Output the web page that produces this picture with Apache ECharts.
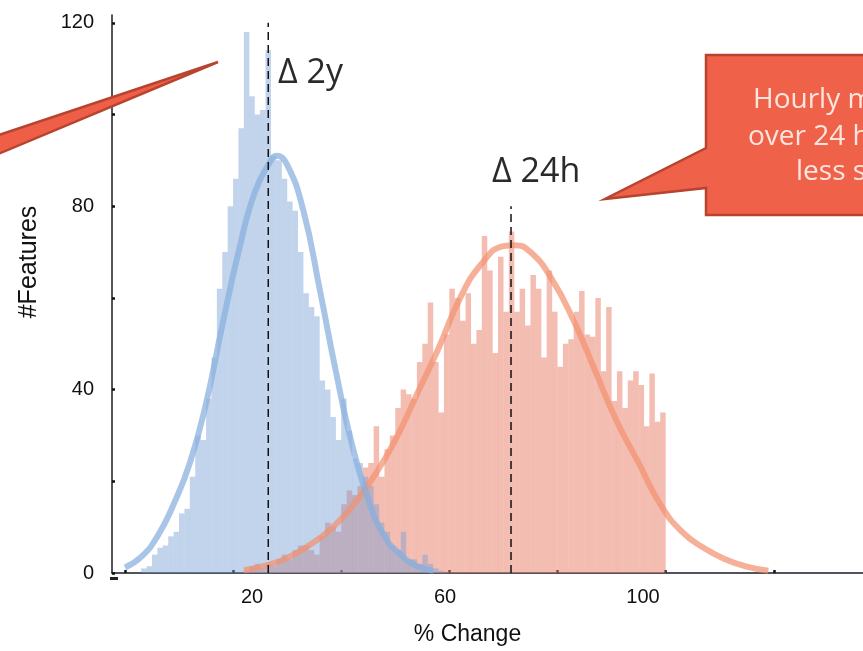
<!DOCTYPE html>
<html><head><meta charset="utf-8">
<script src="https://cdn.jsdelivr.net/npm/echarts@6/dist/echarts.min.js"></script>
<style>html,body{margin:0;padding:0;background:#fff}#c{width:863px;height:651px}</style>
</head><body><div id="c"></div>
<script>
// ---- data ----
const binWidth = 1;               // % change per histogram bin
const blueFirstBin = 3;           // left edge of first "Δ 2y" bin
const blueCounts = [1,1.5,4,5.5,6,8,9,13,14,21,30,29,38,47,62,70,80,86,97,118,104,100,101,114,91,90,86,81,79,70,61,58,56,42,40,34,29,38,31,25,24,21,19,15,11,9,6,5,9,3,3,2,4,2,1,0.5];
const orangeFirstBin = 22;        // left edge of first "Δ 24h" bin
const orangeCounts = [0.5,1.5,2,1,2,1.5,3,4,3,5,6,6,5,4,8,11,10,9,15,18,17,19,23,24,32,21,27,30,36,40,39,38,46,50,59,46,35,52,62,60,55,61,50,53,73.5,66,48,69,57,74.5,57,62,54,65,62,47,66,57,45,50,51,57,61.5,52,51.5,60,44,58,37.5,44,36,42,44,41,32,43.5,33,35];
const blueFitX = [0,3,6,9,12,15,18,21,24,27,28,30,33,36,39,42,45,48,51,54,57];
const blueFitY = [1.2,3.5,8,15,24,37,54,70,83,90,91,89,79,62,44,28,16,8,4,1.5,0.5];
const orangeFitX = [22,26,30,34,38,42,46,50,54,58,62,66,70,72,75,79,83,87,91,95,99,103,107,111,115,119];
const orangeFitY = [0.6,1.6,3.3,6,9.5,14.5,21,29,39,49,60,67.5,71.3,71.5,70,64,55,44,33,24,15,9,5.5,3,1.4,0.5];
const blueMarker = [26.5, 120];   // x position, line top
const orangeMarker = [71.4, 80];
const xTicks = [0,20,40,60,80,100,120];
const xTickLabels = ['20','60','100'];
const yTicks = [0,20,40,60,80,100,120];
const yTickLabels = [0,40,80,120];

// ---- build ----
const toBars = (first, counts) => counts.map((v,i) => [first + i*binWidth + binWidth/2, v]);
const zip = (xs, ys) => xs.map((x,i) => [x, ys[i]]);
const xLabelAt = [23.5, 59.2, 95.8];

const chart = echarts.init(document.getElementById('c'), null, {renderer:'canvas'});
const axisFont = {fontFamily:'Liberation Sans', fontSize:20, color:'#111'};
chart.setOption({
  animation:false,
  grid:{left:112, right:0, top:15, bottom:76, containLabel:false},
  xAxis:{
    type:'value', min:-2.4, max:136.5,
    name:'% Change', nameLocation:'middle', nameGap:50,
    nameTextStyle:{fontFamily:'Liberation Sans', fontSize:23, color:'#111', padding:[0,40,0,0]},
    axisLine:{show:true, onZero:false, lineStyle:{color:'#1b1b2a', width:1.5}},
    axisTick:{show:true, inside:true, length:3, customValues:xTicks, lineStyle:{color:'#111', width:2.5}},
    axisLabel:{show:true, margin:14, customValues:xLabelAt, ...axisFont,
      formatter:(v)=>{const i=xLabelAt.findIndex(p=>Math.abs(p-v)<1e-6); return i>=0?xTickLabels[i]:'';}},
    splitLine:{show:false}
  },
  yAxis:{
    type:'value', min:0, max:121.7,
    name:'#Features', nameLocation:'middle', nameGap:70, nameRotate:90,
    nameTextStyle:{fontFamily:'Liberation Sans', fontSize:25, color:'#111', padding:[0,0,0,64]},
    axisLine:{show:true, onZero:false, lineStyle:{color:'#1b1b2a', width:1.5}},
    axisTick:{show:true, inside:true, length:3, customValues:yTicks, lineStyle:{color:'#111', width:2.5}},
    axisLabel:{show:true, margin:18, customValues:yTickLabels, ...axisFont},
    splitLine:{show:false}
  },
  series:[
    {type:'bar', name:'Δ 24h', data:toBars(orangeFirstBin, orangeCounts), barWidth:5.5, barGap:'-100%',
     itemStyle:{color:'rgba(233,135,115,0.55)'}, z:2},
    {type:'bar', name:'Δ 2y', data:toBars(blueFirstBin, blueCounts), barWidth:5.5, barGap:'-100%',
     itemStyle:{color:'rgba(120,160,212,0.45)'}, z:2},
    {type:'line', data:zip(orangeFitX, orangeFitY), smooth:true, symbol:'none',
     lineStyle:{color:'rgba(242,145,112,0.72)', width:6}, z:3},
    {type:'line', data:zip(blueFitX, blueFitY), smooth:true, symbol:'none',
     lineStyle:{color:'rgba(135,175,222,0.72)', width:6}, z:3},
    {type:'line', data:[[blueMarker[0],0],[blueMarker[0],blueMarker[1]]], symbol:'none',
     lineStyle:{color:'#111', width:1.5, type:[8,5]}, z:4},
    {type:'line', data:[[orangeMarker[0],0],[orangeMarker[0],orangeMarker[1]]], symbol:'none',
     lineStyle:{color:'#111', width:1.5, type:[8,5]}, z:4}
  ],
  graphic:[
    {type:'rect', shape:{x:110,y:577,width:8,height:3}, style:{fill:'#222'}},
    {type:'polygon', z:10, shape:{points:[[218,62],[-40,148],[-40,170]]},
     style:{fill:'#EF5F47', stroke:'#B8432F', lineWidth:2.5}},
    {type:'polygon', z:10, shape:{points:[[706,55],[900,55],[900,215],[706,215],[706,188],[605,199],[706,148]]},
     style:{fill:'#F0614A', stroke:'#B8432F', lineWidth:2.5}},
    {type:'text', z:11, x:753, y:100, style:{text:'Hourly metrics vary', fill:'#FCE6DE', font:'28px "Open Sans"', textVerticalAlign:'middle'}},
    {type:'text', z:11, x:748, y:137, style:{text:'over 24 hours, but', fill:'#FCE6DE', font:'28px "Open Sans"', textVerticalAlign:'middle'}},
    {type:'text', z:11, x:796, y:172, style:{text:'less so over 2 years', fill:'#FCE6DE', font:'28px "Open Sans"', textVerticalAlign:'middle'}},
    {type:'text', z:11, x:278, y:73, style:{text:'Δ 2y', fill:'#2a2a2a', font:'34px "Open Sans"', textVerticalAlign:'middle'}},
    {type:'text', z:11, x:492, y:172, style:{text:'Δ 24h', fill:'#2a2a2a', font:'34px "Open Sans"', textVerticalAlign:'middle'}}
  ]
});
</script></body></html>
